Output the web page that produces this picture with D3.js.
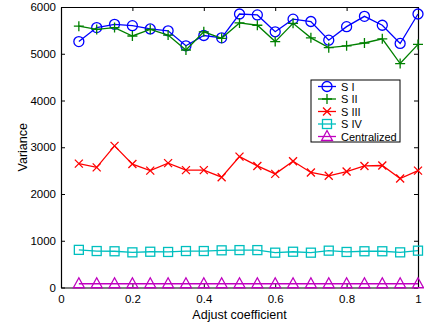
<!DOCTYPE html>
<html>
<head>
<meta charset="utf-8">
<script src="https://cdn.jsdelivr.net/npm/d3@7"></script>
<style>
  body { margin: 0; background: #fff; }
  text { font-family: "Liberation Sans", Arial, sans-serif; }
</style>
</head>
<body>
<div id="chart"></div>
<script>
// x values (adjust coefficient)
const coeffs = [0.05, 0.10, 0.15, 0.20, 0.25, 0.30, 0.35, 0.40, 0.45, 0.50,
                0.55, 0.60, 0.65, 0.70, 0.75, 0.80, 0.85, 0.90, 0.95, 1.00];

// series values
const sI   = [5260, 5560, 5630, 5600, 5530, 5490, 5170, 5390, 5340, 5850,
              5830, 5470, 5740, 5690, 5290, 5580, 5800, 5610, 5220, 5850];
const sII  = [5590, 5520, 5560, 5380, 5520, 5400, 5080, 5470, 5330, 5660,
              5610, 5260, 5650, 5340, 5130, 5170, 5230, 5320, 4790, 5200];
const sIII = [2650, 2570, 3030, 2640, 2500, 2660, 2510, 2510, 2360, 2800,
              2600, 2430, 2700, 2460, 2390, 2480, 2600, 2610, 2330, 2500];
const sIV  = [805, 780, 775, 752, 765, 760, 780, 780, 795, 800,
              800, 745, 765, 745, 788, 760, 775, 775, 752, 788];
const central = [80, 80, 80, 80, 80, 80, 80, 80, 80, 80,
                 80, 80, 80, 80, 80, 80, 80, 80, 80, 80];

const seriesNames = ["S I", "S II", "S III", "S IV", "Centralized"];
const xTicks = [0, 0.2, 0.4, 0.6, 0.8, 1];
const yTicks = [0, 1000, 2000, 3000, 4000, 5000, 6000];

const width = 424, height = 326;
const margin = {left: 61, right: 6, top: 7, bottom: 38.5};

const series = [
  {name: seriesNames[0], values: sI,      color: "#0000ff", marker: "circle"},
  {name: seriesNames[1], values: sII,     color: "#008000", marker: "plus"},
  {name: seriesNames[2], values: sIII,    color: "#ff0000", marker: "cross"},
  {name: seriesNames[3], values: sIV,     color: "#00bfbf", marker: "square"},
  {name: seriesNames[4], values: central, color: "#bf00bf", marker: "triangle"}
];

const svg = d3.select("#chart").append("svg")
  .attr("width", width)
  .attr("height", height);

const x = d3.scaleLinear().domain([0, 1]).range([margin.left, width - margin.right]);
const y = d3.scaleLinear().domain([0, 6000]).range([height - margin.bottom, margin.top]);

// axes (MATLAB style box, ticks inward)
const tick = 4;
const g = svg.append("g");
g.append("g")
  .attr("transform", "translate(0," + y(0) + ")")
  .call(d3.axisBottom(x).tickValues(xTicks).tickSizeInner(-tick).tickSizeOuter(0).tickPadding(7)
    .tickFormat(d => String(d)));
g.append("g")
  .attr("transform", "translate(0," + y(6000) + ")")
  .call(d3.axisTop(x).tickValues(xTicks).tickSizeInner(-tick).tickSizeOuter(0).tickFormat(""));
g.append("g")
  .attr("transform", "translate(" + x(0) + ",0)")
  .call(d3.axisLeft(y).tickValues(yTicks).tickSizeInner(-tick).tickSizeOuter(0).tickPadding(5)
    .tickFormat(d => String(d)));
g.append("g")
  .attr("transform", "translate(" + x(1) + ",0)")
  .call(d3.axisRight(y).tickValues(yTicks).tickSizeInner(-tick).tickSizeOuter(0).tickFormat(""));
g.selectAll(".domain").attr("stroke", "#000").attr("stroke-width", 1.2);
g.selectAll(".tick line").attr("stroke", "#000");
g.selectAll(".tick text").attr("font-size", "11.5px").attr("fill", "#000")
  .style("font-family", "'Liberation Sans', Arial, sans-serif");

// axis labels
svg.append("text")
  .attr("x", (x(0) + x(1)) / 2)
  .attr("y", 319)
  .attr("text-anchor", "middle")
  .attr("font-size", "12.5px")
  .text("Adjust coefficient");
svg.append("text")
  .attr("transform", "translate(27," + (y(0) + y(6000)) / 2 + ") rotate(-90)")
  .attr("text-anchor", "middle")
  .attr("font-size", "12.5px")
  .text("Variance");

// marker drawing
function drawMarker(sel, type, color) {
  sel.each(function() {
    const m = d3.select(this);
    if (type === "circle") {
      m.append("circle").attr("r", 5);
    } else if (type === "plus") {
      m.append("path").attr("d", "M-5,0H5M0,-5V5");
    } else if (type === "cross") {
      m.append("path").attr("d", "M-4,-4L4,4M-4,4L4,-4");
    } else if (type === "square") {
      m.append("rect").attr("x", -4.5).attr("y", -4.5).attr("width", 9).attr("height", 9);
    } else if (type === "triangle") {
      m.append("path").attr("d", "M0,-6L5.5,4L-5.5,4Z");
    }
    m.selectAll("*").attr("fill", "none").attr("stroke", color).attr("stroke-width", 1.3);
  });
}

const line = d3.line()
  .x((d, i) => x(coeffs[i]))
  .y(d => y(d));

series.forEach(function(s) {
  const grp = svg.append("g");
  grp.append("path")
    .datum(s.values)
    .attr("d", line)
    .attr("fill", "none")
    .attr("stroke", s.color)
    .attr("stroke-width", 1.3);
  grp.selectAll("g.mk")
    .data(s.values)
    .enter()
    .append("g")
    .attr("class", "mk")
    .attr("transform", (d, i) => "translate(" + x(coeffs[i]) + "," + y(d) + ")")
    .call(drawMarker, s.marker, s.color);
});

// legend
const lg = svg.append("g").attr("transform", "translate(311,80)");
lg.append("rect")
  .attr("width", 89).attr("height", 62)
  .attr("fill", "#fff").attr("stroke", "#000").attr("stroke-width", 1);
series.forEach(function(s, i) {
  const cy = 6.5 + i * 12.5;
  lg.append("line")
    .attr("x1", 7).attr("x2", 25).attr("y1", cy).attr("y2", cy)
    .attr("stroke", s.color).attr("stroke-width", 1.3);
  lg.append("g")
    .attr("transform", "translate(16," + cy + ")")
    .call(drawMarker, s.marker, s.color);
  lg.append("text")
    .attr("x", 30).attr("y", cy + 4)
    .attr("font-size", "11px")
    .text(s.name);
});
</script>
</body>
</html>
